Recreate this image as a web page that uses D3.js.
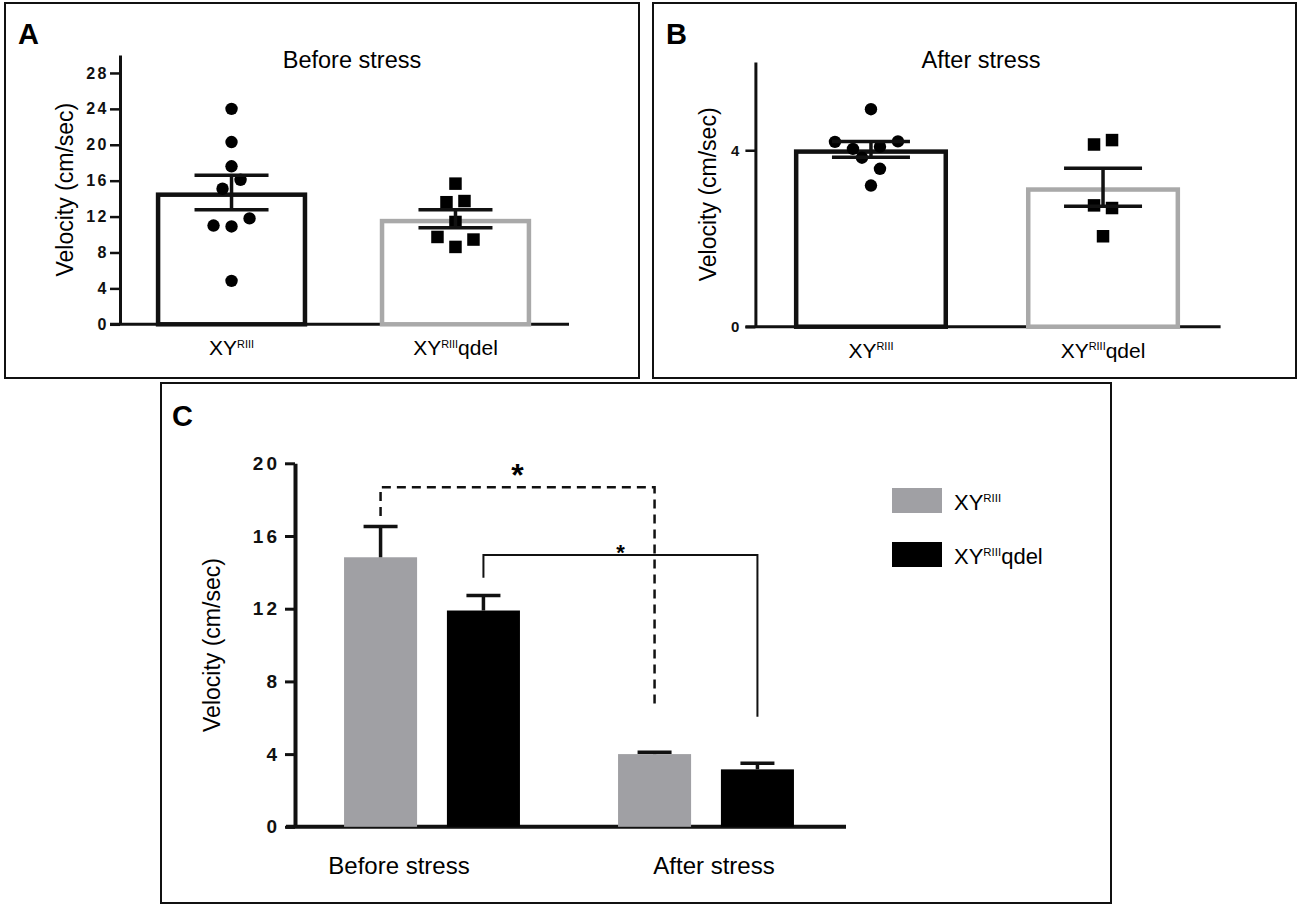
<!DOCTYPE html>
<html lang="en">
<head>
<meta charset="utf-8">
<title>Velocity before and after stress</title>
<script src="https://cdn.jsdelivr.net/npm/d3@7"></script>
<style>
  body { margin: 0; background: #fff; }
  svg { display: block; font-family: "Liberation Sans", Arial, Helvetica, sans-serif; }
</style>
</head>
<body>
<script>

// genotypes and test phases
var genotypes = ["XYRIII", "XYRIIIqdel"];
var genoSuffix = ["", "qdel"];
var phases = ["Before stress", "After stress"];

// panel A: single animals before stress (cm/sec), jitter = side slot
var beforeWT = [24.0, 20.3, 17.6, 16.1, 15.1, 11.0, 10.9, 11.8, 4.84];
var beforeWTJitter = [0, 0, 0, 1, -1, -2, 0, 2, 0];
var beforeDel = [15.67, 13.6, 13.73, 11.4, 9.73, 9.44, 8.62];
var beforeDelJitter = [0, -1, 1, 0, -2, 2, 0];
var beforeMean = [14.69, 11.75];
var beforeSem = [1.92, 1.0];
var beforeTicks = [0, 4, 8, 12, 16, 20, 24, 28];

// panel B: single animals after stress
var afterWT = [4.93, 4.19, 4.2, 4.03, 4.08, 3.83, 3.58, 3.2];
var afterWTJitter = [0, -4, 3, -2, 1, -1, 1, 0];
var afterDel = [4.13, 4.23, 2.75, 2.69, 2.05];
var afterDelJitter = [-1, 1, -1, 1, 0];
var afterMean = [4.02, 3.16];
var afterSem = [0.18, 0.43];
var afterTicks = [0, 4];

// panel C: means + SEM per phase
var summaryWT = [14.83, 4.0];
var summaryWTSem = [1.69, 0.1];
var summaryDel = [11.9, 3.16];
var summaryDelSem = [0.82, 0.33];
var summaryTicks = [0, 4, 8, 12, 16, 20];

// significance brackets (heights in cm/sec)
var sigGeno = ["XYRIII", "XYRIIIqdel"];
var sigTop = [18.68, 14.96];
var sigLeftEnd = [17.1, 13.7];
var sigRightEnd = [6.7, 6.06];
var sigLabel = ["*", "*"];

var svg = d3.select("body").append("svg")
  .attr("width", 1300)
  .attr("height", 907);

// x label "XY" + superscript RIII + suffix
function genoLabel(sel, i, size) {
  sel.append("tspan").text("XY");
  sel.append("tspan").text("RIII").attr("font-size", size * 0.52).attr("dy", -size * 0.36);
  if (genoSuffix[i]) sel.append("tspan").text(genoSuffix[i]).attr("dy", size * 0.36);
}

function dotPanel(p) {
  var g = svg.append("g");

  g.append("rect")
    .attr("x", p.box[0]).attr("y", p.box[1])
    .attr("width", p.box[2] - p.box[0]).attr("height", p.box[3] - p.box[1])
    .attr("fill", "none").attr("stroke", "#111").attr("stroke-width", 2);

  g.append("text")
    .attr("x", p.box[0] + 13).attr("y", p.box[1] + 41)
    .attr("font-size", 29).attr("font-weight", "bold")
    .text(p.letter);

  var y = d3.scaleLinear().domain(p.yDomain).range([p.y0, p.y1]);
  var x = d3.scaleBand().domain(genotypes)
    .range([p.x0, p.x1]).paddingInner(p.padIn).paddingOuter(p.padOut);

  g.append("text")
    .attr("x", p.titleX).attr("y", 68)
    .attr("text-anchor", "middle").attr("font-size", 23.5)
    .text(p.title);

  // y label
  g.append("text")
    .attr("transform", "translate(" + p.labelX + "," + (p.y0 + p.y1) / 2 + ") rotate(-90)")
    .attr("text-anchor", "middle").attr("dy", "0.35em")
    .attr("font-size", 23)
    .text("Velocity (cm/sec)");

  var ax = g.append("g")
    .attr("transform", "translate(" + p.x0 + ",0)")
    .call(d3.axisLeft(y).tickValues(p.ticks).tickFormat(d3.format("d"))
      .tickSize(10).tickSizeOuter(0).tickPadding(p.tickPad));
  ax.select(".domain").attr("stroke", "#111").attr("stroke-width", 3);
  ax.selectAll(".tick line").attr("stroke", "#111").attr("stroke-width", 2.5);
  ax.selectAll(".tick text")
    .attr("font-family", "Liberation Sans, Arial, sans-serif")
    .attr("font-size", p.tickFont).attr("font-weight", "bold")
    .attr("letter-spacing", p.tickSpacing).attr("fill", "#111");

  g.append("line")
    .attr("x1", p.x0 - 10).attr("x2", p.x1 + 2)
    .attr("y1", y(0)).attr("y2", y(0))
    .attr("stroke", "#111").attr("stroke-width", 3);

  var sw = 4.5;
  var colors = ["#111", "#a9a9a9"];
  g.selectAll("rect.bar").data(genotypes).join("rect")
    .attr("class", "bar")
    .attr("x", function(d) { return x(d) + sw / 2; })
    .attr("y", function(d, i) { return y(p.mean[i]) + sw / 2; })
    .attr("width", x.bandwidth() - sw)
    .attr("height", function(d, i) { return y(0) - y(p.mean[i]) - sw / 2; })
    .attr("fill", "#fff")
    .attr("stroke", function(d, i) { return colors[i]; })
    .attr("stroke-width", sw);

  var slot = 9;
  var cx0 = x(genotypes[0]) + x.bandwidth() / 2;
  var cx1 = x(genotypes[1]) + x.bandwidth() / 2;

  g.selectAll("circle.pt").data(p.wt).join("circle")
    .attr("class", "pt")
    .attr("cx", function(d, i) { return cx0 + p.wtJitter[i] * slot; })
    .attr("cy", function(d) { return y(d); })
    .attr("r", 6.2)
    .attr("fill", "#000");

  var s = 12.5;
  g.selectAll("rect.pt").data(p.del).join("rect")
    .attr("class", "pt")
    .attr("x", function(d, i) { return cx1 + p.delJitter[i] * slot - s / 2; })
    .attr("y", function(d) { return y(d) - s / 2; })
    .attr("width", s).attr("height", s)
    .attr("fill", "#000");

  // mean +/- SEM
  var eb = g.selectAll("g.err").data(genotypes).join("g").attr("class", "err");
  eb.append("line")
    .attr("x1", function(d) { return x(d) + x.bandwidth() / 2; })
    .attr("x2", function(d) { return x(d) + x.bandwidth() / 2; })
    .attr("y1", function(d, i) { return y(p.mean[i] - p.sem[i]); })
    .attr("y2", function(d, i) { return y(p.mean[i] + p.sem[i]); });
  [1, -1].forEach(function(sign) {
    eb.append("line")
      .attr("x1", function(d) { return x(d) + x.bandwidth() / 2 - p.capHalf; })
      .attr("x2", function(d) { return x(d) + x.bandwidth() / 2 + p.capHalf; })
      .attr("y1", function(d, i) { return y(p.mean[i] + sign * p.sem[i]); })
      .attr("y2", function(d, i) { return y(p.mean[i] + sign * p.sem[i]); });
  });
  eb.selectAll("line").attr("stroke", "#111").attr("stroke-width", 3.5);

  g.selectAll("text.xl").data(genotypes).join("text")
    .attr("class", "xl")
    .attr("x", function(d) { return x(d) + x.bandwidth() / 2; })
    .attr("y", p.y0 + 31)
    .attr("text-anchor", "middle")
    .attr("font-size", 21)
    .each(function(d, i) { genoLabel(d3.select(this), i, 21); });
}

dotPanel({
  box: [5, 3, 639, 378], letter: "A", title: "Before stress", titleX: 352,
  yDomain: [0, 30], y0: 324.3, y1: 55, ticks: beforeTicks,
  x0: 120, x1: 567, padIn: 0.324, padOut: 0.16,
  tickFont: 16, tickSpacing: 2.5, tickPad: 1, labelX: 65, capHalf: 37,
  wt: beforeWT, wtJitter: beforeWTJitter, del: beforeDel, delJitter: beforeDelJitter,
  mean: beforeMean, sem: beforeSem
});

dotPanel({
  box: [653, 3, 1296, 378], letter: "B", title: "After stress", titleX: 981,
  yDomain: [0, 6], y0: 326.7, y1: 62, ticks: afterTicks,
  x0: 755.4, x1: 1218.6, padIn: 0.336, padOut: 0.166,
  tickFont: 15, tickSpacing: 1, tickPad: 5, labelX: 708, capHalf: 39,
  wt: afterWT, wtJitter: afterWTJitter, del: afterDel, delJitter: afterDelJitter,
  mean: afterMean, sem: afterSem
});

// ---------- panel C ----------
var gc = svg.append("g");

gc.append("rect")
  .attr("x", 161).attr("y", 383).attr("width", 950).attr("height", 520)
  .attr("fill", "none").attr("stroke", "#111").attr("stroke-width", 2);

gc.append("text")
  .attr("x", 172).attr("y", 426)
  .attr("font-size", 29).attr("font-weight", "bold")
  .text("C");

var yC = d3.scaleLinear().domain([0, 20]).range([826.8, 463.3]);
var xC = d3.scaleBand().domain(phases).range([295, 843]).paddingInner(0.358).paddingOuter(0.179);
var xSub = d3.scaleBand().domain(genotypes).range([0, xC.bandwidth()]).paddingInner(0.29);

var axC = gc.append("g")
  .attr("transform", "translate(295,0)")
  .call(d3.axisLeft(yC).tickValues(summaryTicks).tickSize(10).tickSizeOuter(0).tickPadding(5));
axC.select(".domain").attr("stroke", "#111").attr("stroke-width", 4);
axC.selectAll(".tick line").attr("stroke", "#111").attr("stroke-width", 3);
axC.selectAll(".tick text")
  .attr("font-family", "Liberation Sans, Arial, sans-serif")
  .attr("font-size", 19).attr("font-weight", "bold")
  .attr("letter-spacing", 3).attr("fill", "#111");

gc.append("line")
  .attr("x1", 286).attr("x2", 846)
  .attr("y1", yC(0)).attr("y2", yC(0))
  .attr("stroke", "#111").attr("stroke-width", 4);

gc.append("text")
  .attr("transform", "translate(212," + (yC(0) + yC(20)) / 2 + ") rotate(-90)")
  .attr("text-anchor", "middle").attr("dy", "0.35em")
  .attr("font-size", 23)
  .text("Velocity (cm/sec)");

var fillC = ["#a0a0a4", "#000"];
var meansC = [summaryWT, summaryDel];
var semsC = [summaryWTSem, summaryDelSem];

function barX(phase, geno) { return xC(phase) + xSub(geno); }
function barMid(phase, geno) { return barX(phase, geno) + xSub.bandwidth() / 2; }

var cells = [];
phases.forEach(function(ph, pi) {
  genotypes.forEach(function(ge, gi) {
    cells.push({ phase: ph, geno: ge, gi: gi, mean: meansC[gi][pi], sem: semsC[gi][pi] });
  });
});

gc.selectAll("rect.bar").data(cells).join("rect")
  .attr("class", "bar")
  .attr("x", function(d) { return barX(d.phase, d.geno); })
  .attr("y", function(d) { return yC(d.mean); })
  .attr("width", xSub.bandwidth())
  .attr("height", function(d) { return yC(0) - yC(d.mean); })
  .attr("fill", function(d) { return fillC[d.gi]; });

var ebC = gc.selectAll("g.err").data(cells).join("g").attr("class", "err");
ebC.append("line")
  .attr("x1", function(d) { return barMid(d.phase, d.geno); })
  .attr("x2", function(d) { return barMid(d.phase, d.geno); })
  .attr("y1", function(d) { return yC(d.mean); })
  .attr("y2", function(d) { return yC(d.mean + d.sem); });
ebC.append("line")
  .attr("x1", function(d) { return barMid(d.phase, d.geno) - 17; })
  .attr("x2", function(d) { return barMid(d.phase, d.geno) + 17; })
  .attr("y1", function(d) { return yC(d.mean + d.sem); })
  .attr("y2", function(d) { return yC(d.mean + d.sem); });
ebC.selectAll("line").attr("stroke", "#111").attr("stroke-width", 3.5);

// brackets before vs after
sigGeno.forEach(function(ge, i) {
  var xa = barMid(phases[0], ge), xb = barMid(phases[1], ge);
  gc.append("path")
    .attr("d", "M" + xa + "," + yC(sigLeftEnd[i]) + "V" + yC(sigTop[i]) +
               "H" + xb + "V" + yC(sigRightEnd[i]))
    .attr("fill", "none").attr("stroke", "#111")
    .attr("stroke-width", i === 0 ? 2.5 : 2)
    .attr("stroke-dasharray", i === 0 ? "9,6" : null);
  gc.append("text")
    .attr("x", (xa + xb) / 2)
    .attr("y", yC(sigTop[i]) + (i === 0 ? -1 : 5))
    .attr("text-anchor", "middle")
    .attr("font-size", i === 0 ? 32 : 22).attr("font-weight", "bold")
    .text(sigLabel[i]);
});

gc.selectAll("text.xl").data(phases).join("text")
  .attr("class", "xl")
  .attr("x", function(d, i) { return xC(d) + xC.bandwidth() / 2 + [-33, 8][i]; })
  .attr("y", 874)
  .attr("text-anchor", "middle")
  .attr("font-size", 24)
  .text(function(d) { return d; });

// legend
var lg = gc.selectAll("g.lg").data(genotypes).join("g")
  .attr("class", "lg")
  .attr("transform", function(d, i) { return "translate(892," + (488 + i * 54) + ")"; });
lg.append("rect")
  .attr("width", 50).attr("height", 25)
  .attr("fill", function(d, i) { return fillC[i]; });
lg.append("text")
  .attr("x", 62).attr("y", 22)
  .attr("font-size", 22)
  .each(function(d, i) { genoLabel(d3.select(this), i, 22); });

</script>
</body>
</html>
